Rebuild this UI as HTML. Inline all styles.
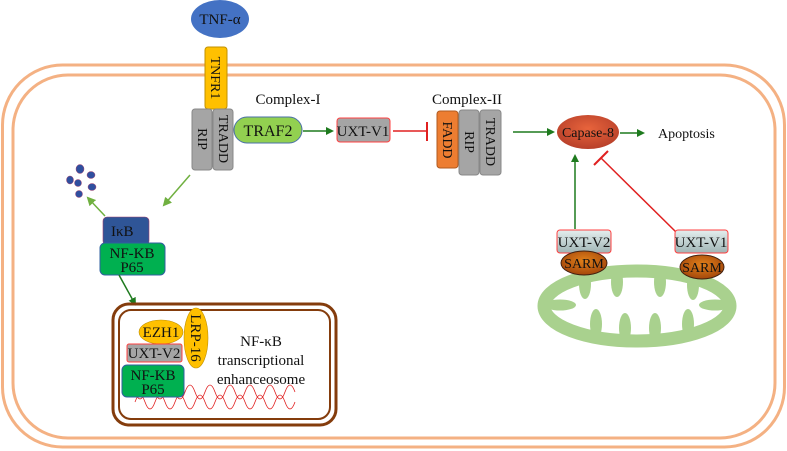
<!DOCTYPE html>
<html><head><meta charset="utf-8"><style>
html,body{margin:0;padding:0;background:#fff;width:787px;height:451px;overflow:hidden}
text{font-family:"Liberation Serif",serif;fill:#111}
</style></head><body>
<svg width="787" height="451" viewBox="0 0 787 451" xmlns="http://www.w3.org/2000/svg">
<defs>
<marker id="ag" markerWidth="8" markerHeight="8" refX="6" refY="4" orient="auto" markerUnits="userSpaceOnUse"><path d="M0,0 L8,4 L0,8 Z" fill="#1e7a1e"/></marker>
<marker id="al" markerWidth="9" markerHeight="9" refX="7" refY="4.5" orient="auto" markerUnits="userSpaceOnUse"><path d="M0,0 L9,4.5 L0,9 Z" fill="#70b040"/></marker>
<linearGradient id="gb" x1="0" y1="0" x2="0" y2="1"><stop offset="0" stop-color="#e4eeee"/><stop offset="1" stop-color="#9fb5b5"/></linearGradient>
<radialGradient id="gs" cx="0.5" cy="0.4" r="0.6"><stop offset="0" stop-color="#e0801a"/><stop offset="1" stop-color="#a4470b"/></radialGradient>
<radialGradient id="gc" cx="0.5" cy="0.4" r="0.6"><stop offset="0" stop-color="#e8643c"/><stop offset="1" stop-color="#b8402a"/></radialGradient>
</defs>
<rect x="2.5" y="65" width="782" height="382" rx="60" fill="none" stroke="#f4b183" stroke-width="3"/>
<rect x="13" y="75" width="762" height="363" rx="55" fill="none" stroke="#f4b183" stroke-width="3"/>
<ellipse cx="220" cy="19" rx="29" ry="19" fill="#4472c4"/>
<text x="220" y="24" font-size="15" text-anchor="middle">TNF-α</text>
<rect x="205" y="47" width="22" height="62" rx="3" fill="#ffc000" stroke="#c09000"/>
<text transform="translate(211,78) rotate(90)" font-size="14" text-anchor="middle">TNFR1</text>
<rect x="192" y="109" width="20" height="61" rx="3" fill="#a5a5a5" stroke="#888"/>
<text transform="translate(198,139) rotate(90)" font-size="14" text-anchor="middle">RIP</text>
<rect x="213" y="109" width="20" height="61" rx="3" fill="#a5a5a5" stroke="#888"/>
<text transform="translate(219,139) rotate(90)" font-size="14" text-anchor="middle">TRADD</text>
<rect x="234" y="117" width="68" height="26" rx="13" fill="#92d050" stroke="#4a6fa8"/>
<text x="268" y="136" font-size="16" text-anchor="middle">TRAF2</text>
<text x="288" y="104" font-size="15" text-anchor="middle">Complex-I</text>
<line x1="303" y1="131" x2="332" y2="131" stroke="#1e7a1e" stroke-width="1.5" marker-end="url(#ag)"/>
<rect x="337" y="118" width="53" height="24" rx="3" fill="#a5a5a5" stroke="#ff4040"/>
<text x="363" y="136" font-size="15" text-anchor="middle">UXT-V1</text>
<line x1="393" y1="131" x2="427" y2="131" stroke="#e02020" stroke-width="1.5"/>
<line x1="427" y1="122" x2="427" y2="141" stroke="#e02020" stroke-width="2"/>
<text x="467" y="104" font-size="15" text-anchor="middle">Complex-II</text>
<rect x="459" y="110" width="20" height="65" rx="3" fill="#a5a5a5" stroke="#888"/>
<text transform="translate(465,142) rotate(90)" font-size="14" text-anchor="middle">RIP</text>
<rect x="480" y="110" width="21" height="65" rx="3" fill="#a5a5a5" stroke="#888"/>
<text transform="translate(486,142) rotate(90)" font-size="14" text-anchor="middle">TRADD</text>
<rect x="437" y="111" width="21" height="57" rx="3" fill="#ed7d31" stroke="#b05a20"/>
<text transform="translate(443,140) rotate(90)" font-size="14" text-anchor="middle">FADD</text>
<line x1="513" y1="132" x2="553" y2="132" stroke="#1e7a1e" stroke-width="1.5" marker-end="url(#ag)"/>
<ellipse cx="588" cy="132" rx="31" ry="17" fill="url(#gc)"/>
<text x="588" y="137" font-size="14" text-anchor="middle">Capase-8</text>
<line x1="620" y1="133" x2="643" y2="133" stroke="#1e7a1e" stroke-width="1.5" marker-end="url(#ag)"/>
<text x="658" y="138" font-size="14">Apoptosis</text>
<line x1="575" y1="229" x2="575" y2="156" stroke="#1e7a1e" stroke-width="1.5" marker-end="url(#ag)"/>
<line x1="677" y1="233" x2="601" y2="158" stroke="#e02020" stroke-width="1.5"/>
<line x1="594" y1="165" x2="608" y2="151" stroke="#e02020" stroke-width="2"/>
<ellipse cx="637" cy="306" rx="93" ry="35" fill="none" stroke="#a9d18e" stroke-width="13"/>
<g fill="#a9d18e">
<ellipse cx="585" cy="284" rx="6" ry="15"/><ellipse cx="617" cy="282" rx="6" ry="15"/><ellipse cx="660" cy="282" rx="6" ry="15"/><ellipse cx="693" cy="285" rx="6" ry="15"/>
<ellipse cx="596" cy="324" rx="6" ry="15"/><ellipse cx="625" cy="328" rx="6" ry="15"/><ellipse cx="655" cy="328" rx="6" ry="15"/><ellipse cx="688" cy="324" rx="6" ry="15"/>
<ellipse cx="560" cy="305" rx="16" ry="5.5"/><ellipse cx="715" cy="305" rx="16" ry="5.5"/>
</g>
<rect x="557" y="230" width="54" height="23" rx="3" fill="url(#gb)" stroke="#ff4040"/>
<text x="584" y="247" font-size="15" text-anchor="middle">UXT-V2</text>
<ellipse cx="584" cy="263" rx="23" ry="12" fill="url(#gs)" stroke="#402010"/>
<text x="584" y="268" font-size="14" text-anchor="middle">SARM</text>
<rect x="675" y="230" width="53" height="23" rx="3" fill="url(#gb)" stroke="#ff4040"/>
<text x="701" y="247" font-size="15" text-anchor="middle">UXT-V1</text>
<ellipse cx="702" cy="267" rx="22" ry="12" fill="url(#gs)" stroke="#402010"/>
<text x="702" y="272" font-size="14" text-anchor="middle">SARM</text>
<g fill="#2f4f9f" stroke="#a04070" stroke-width="0.5">
<ellipse cx="80" cy="169" rx="4" ry="4.5"/><ellipse cx="70" cy="180" rx="3.5" ry="4"/><ellipse cx="78" cy="183" rx="3.5" ry="3.5"/><ellipse cx="91" cy="175" rx="4" ry="3.5"/><ellipse cx="92" cy="187" rx="4" ry="3.5"/><ellipse cx="79" cy="194" rx="3.5" ry="3.5"/>
</g>
<line x1="190" y1="175" x2="164" y2="205" stroke="#70b040" stroke-width="1.5" marker-end="url(#al)"/>
<line x1="105" y1="216" x2="88" y2="198" stroke="#70b040" stroke-width="1.5" marker-end="url(#al)"/>
<rect x="103" y="217" width="46" height="28" rx="4" fill="#2f5597" stroke="#a04070" stroke-width="0.6"/>
<text x="111" y="236" font-size="15">IκB</text>
<rect x="100" y="243" width="65" height="32" rx="5" fill="#00b050" stroke="#3060a0"/>
<text x="132" y="258" font-size="15" text-anchor="middle">NF-KB</text>
<text x="132" y="272" font-size="15" text-anchor="middle">P65</text>
<line x1="119" y1="275" x2="135" y2="304" stroke="#1e7a1e" stroke-width="1.5" marker-end="url(#ag)"/>
<rect x="113" y="304" width="223" height="121" rx="16" fill="none" stroke="#843c0c" stroke-width="3"/>
<rect x="119" y="310" width="211" height="109" rx="12" fill="none" stroke="#843c0c" stroke-width="2"/>
<g stroke="#e02020" stroke-width="0.8" fill="none">
<path d="M135,402 Q140,388 145,402 T155,402 T165,402 T175,402 T185,402 T195,402 T205,402 T215,402 T225,402 T235,402 T245,402 T255,402 T265,402 T275,402 T285,402 T295,402"/>
<path d="M135,392 Q140,406 145,392 T155,392 T165,392 T175,392 T185,392 T195,392 T205,392 T215,392 T225,392 T235,392 T245,392 T255,392 T265,392 T275,392 T285,392 T295,392"/>
</g>
<ellipse cx="196" cy="338" rx="12" ry="30" fill="#ffc000" stroke="#c09000" stroke-width="0.6"/>
<text transform="translate(191,338) rotate(90)" font-size="15" text-anchor="middle">LRP-16</text>
<ellipse cx="161" cy="332" rx="22" ry="12" fill="#ffc000" stroke="#c09000" stroke-width="0.6"/>
<text x="161" y="337" font-size="15" text-anchor="middle">EZH1</text>
<rect x="127" y="344" width="55" height="18" rx="2" fill="#a5a5a5" stroke="#ff4040"/>
<text x="154" y="358" font-size="15" text-anchor="middle">UXT-V2</text>
<rect x="122" y="365" width="62" height="32" rx="5" fill="#00b050" stroke="#3060a0"/>
<text x="153" y="380" font-size="15" text-anchor="middle">NF-KB</text>
<text x="153" y="394" font-size="15" text-anchor="middle">P65</text>
<text x="261" y="346" font-size="15" text-anchor="middle">NF-κB</text>
<text x="261" y="365" font-size="15" text-anchor="middle">transcriptional</text>
<text x="261" y="384" font-size="15" text-anchor="middle">enhanceosome</text>
</svg>
</body></html>
